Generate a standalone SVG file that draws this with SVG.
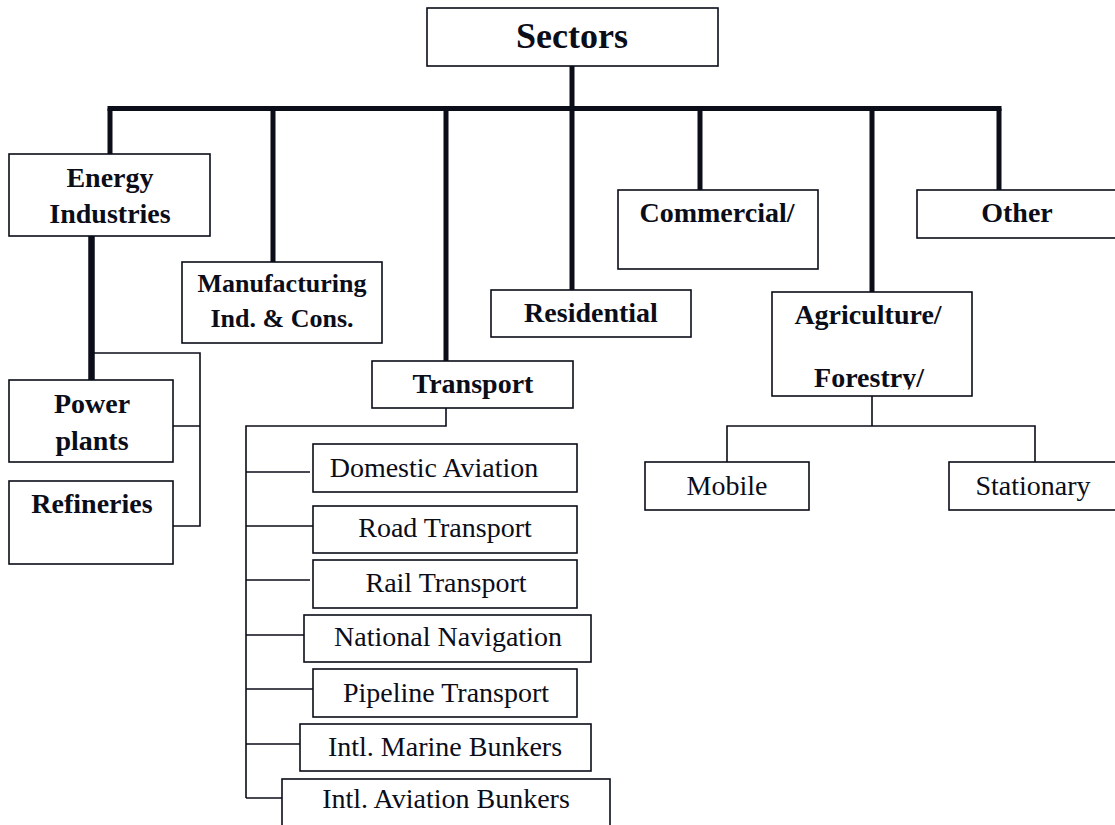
<svg xmlns="http://www.w3.org/2000/svg" width="1115" height="825" viewBox="0 0 1115 825">
<style>
  .box { fill: #ffffff; stroke: #0b0d18; stroke-width: 1.6; }
  .thick { stroke: #0b0d18; stroke-width: 5; fill: none; stroke-linecap: square; }
  .thin { stroke: #0b0d18; stroke-width: 1.6; fill: none; }
  .b { font-family: "Liberation Serif", "Times New Roman", serif; font-weight: bold; font-size: 28px; fill: #0b0d18; text-anchor: middle; }
  .r { font-family: "Liberation Serif", "Times New Roman", serif; font-size: 28px; fill: #0b0d18; text-anchor: middle; }
</style>
<defs>
  <clipPath id="agriClip"><rect x="772" y="292" width="200" height="97.5"/></clipPath>
</defs>
<rect width="1115" height="825" fill="#ffffff"/>

<g id="connectors">
  <line class="thick" x1="110" y1="108.5" x2="999" y2="108.5"/>
  <line class="thick" x1="572" y1="66" x2="572" y2="290" style="stroke-linecap:butt"/>
  <line class="thick" x1="110" y1="108.5" x2="110" y2="154" style="stroke-linecap:butt"/>
  <line class="thick" x1="273" y1="108.5" x2="273" y2="262" style="stroke-linecap:butt"/>
  <line class="thick" x1="446" y1="108.5" x2="446" y2="361" style="stroke-linecap:butt"/>
  <line class="thick" x1="700" y1="108.5" x2="700" y2="190" style="stroke-linecap:butt"/>
  <line class="thick" x1="872" y1="108.5" x2="872" y2="292" style="stroke-linecap:butt"/>
  <line class="thick" x1="999" y1="108.5" x2="999" y2="190" style="stroke-linecap:butt"/>
  <line class="thick" x1="91.5" y1="236" x2="91.5" y2="380" style="stroke-width:6.5;stroke-linecap:butt"/>
  <path class="thin" d="M91.5,353 H200 V526 H173 M173,426 H200"/>
  <path class="thin" d="M446,408 V426 H246 V798 M246,472 H310 M246,526 H319 M246,580 H310 M246,635 H310 M246,689 H319 M246,744 H300 M246,798 H282"/>
  <path class="thin" d="M872,390 V426 M727,462 V426 H1035 V462"/>
</g>

<g id="sectors">
  <rect class="box" x="427" y="8" width="291" height="58"/>
  <text class="b" x="572" y="48" style="font-size:36px">Sectors</text>
</g>
<g id="energy-industries">
  <rect class="box" x="9" y="154" width="201" height="82"/>
  <text class="b" x="110" y="187">Energy</text>
  <text class="b" x="110" y="223">Industries</text>
</g>
<g id="manufacturing">
  <rect class="box" x="182" y="262" width="200" height="81"/>
  <text class="b" x="282" y="292" style="font-size:26px">Manufacturing</text>
  <text class="b" x="282" y="327" style="font-size:26px">Ind. &amp; Cons.</text>
</g>
<g id="power-plants">
  <rect class="box" x="9" y="380" width="164" height="82"/>
  <text class="b" x="92" y="413">Power</text>
  <text class="b" x="92" y="450">plants</text>
</g>
<g id="refineries">
  <rect class="box" x="9" y="481" width="164" height="83"/>
  <text class="b" x="92" y="513">Refineries</text>
</g>
<g id="transport">
  <rect class="box" x="372" y="361" width="201" height="47"/>
  <text class="b" x="473" y="393">Transport</text>
</g>
<g id="residential">
  <rect class="box" x="491" y="290" width="200" height="47"/>
  <text class="b" x="591" y="322">Residential</text>
</g>
<g id="commercial">
  <rect class="box" x="618" y="190" width="200" height="79"/>
  <text class="b" x="717" y="222">Commercial/</text>
</g>
<g id="other">
  <rect class="box" x="917" y="190" width="210" height="48"/>
  <text class="b" x="1017" y="222">Other</text>
</g>
<g id="agriculture">
  <rect class="box" x="772" y="292" width="200" height="104"/>
  <text class="b" x="868" y="324">Agriculture/</text>
  <text class="b" x="869" y="387" clip-path="url(#agriClip)">Forestry/</text>
</g>
<g id="mobile">
  <rect class="box" x="645" y="462" width="164" height="48"/>
  <text class="r" x="727" y="495">Mobile</text>
</g>
<g id="stationary">
  <rect class="box" x="949" y="462" width="180" height="48"/>
  <text class="r" x="1033" y="495">Stationary</text>
</g>
<g id="domestic-aviation">
  <rect class="box" x="313" y="444" width="264" height="48"/>
  <text class="r" x="434" y="477">Domestic Aviation</text>
</g>
<g id="road-transport">
  <rect class="box" x="313" y="506" width="264" height="47"/>
  <text class="r" x="445" y="537">Road Transport</text>
</g>
<g id="rail-transport">
  <rect class="box" x="313" y="560" width="264" height="48"/>
  <text class="r" x="446" y="592">Rail Transport</text>
</g>
<g id="national-navigation">
  <rect class="box" x="304" y="615" width="287" height="47"/>
  <text class="r" x="448" y="646">National Navigation</text>
</g>
<g id="pipeline-transport">
  <rect class="box" x="313" y="669" width="264" height="48"/>
  <text class="r" x="446" y="702">Pipeline Transport</text>
</g>
<g id="intl-marine-bunkers">
  <rect class="box" x="300" y="724" width="291" height="47"/>
  <text class="r" x="445" y="756">Intl. Marine Bunkers</text>
</g>
<g id="intl-aviation-bunkers">
  <rect class="box" x="282" y="779" width="328" height="60"/>
  <text class="r" x="446" y="808">Intl. Aviation Bunkers</text>
</g>
</svg>
